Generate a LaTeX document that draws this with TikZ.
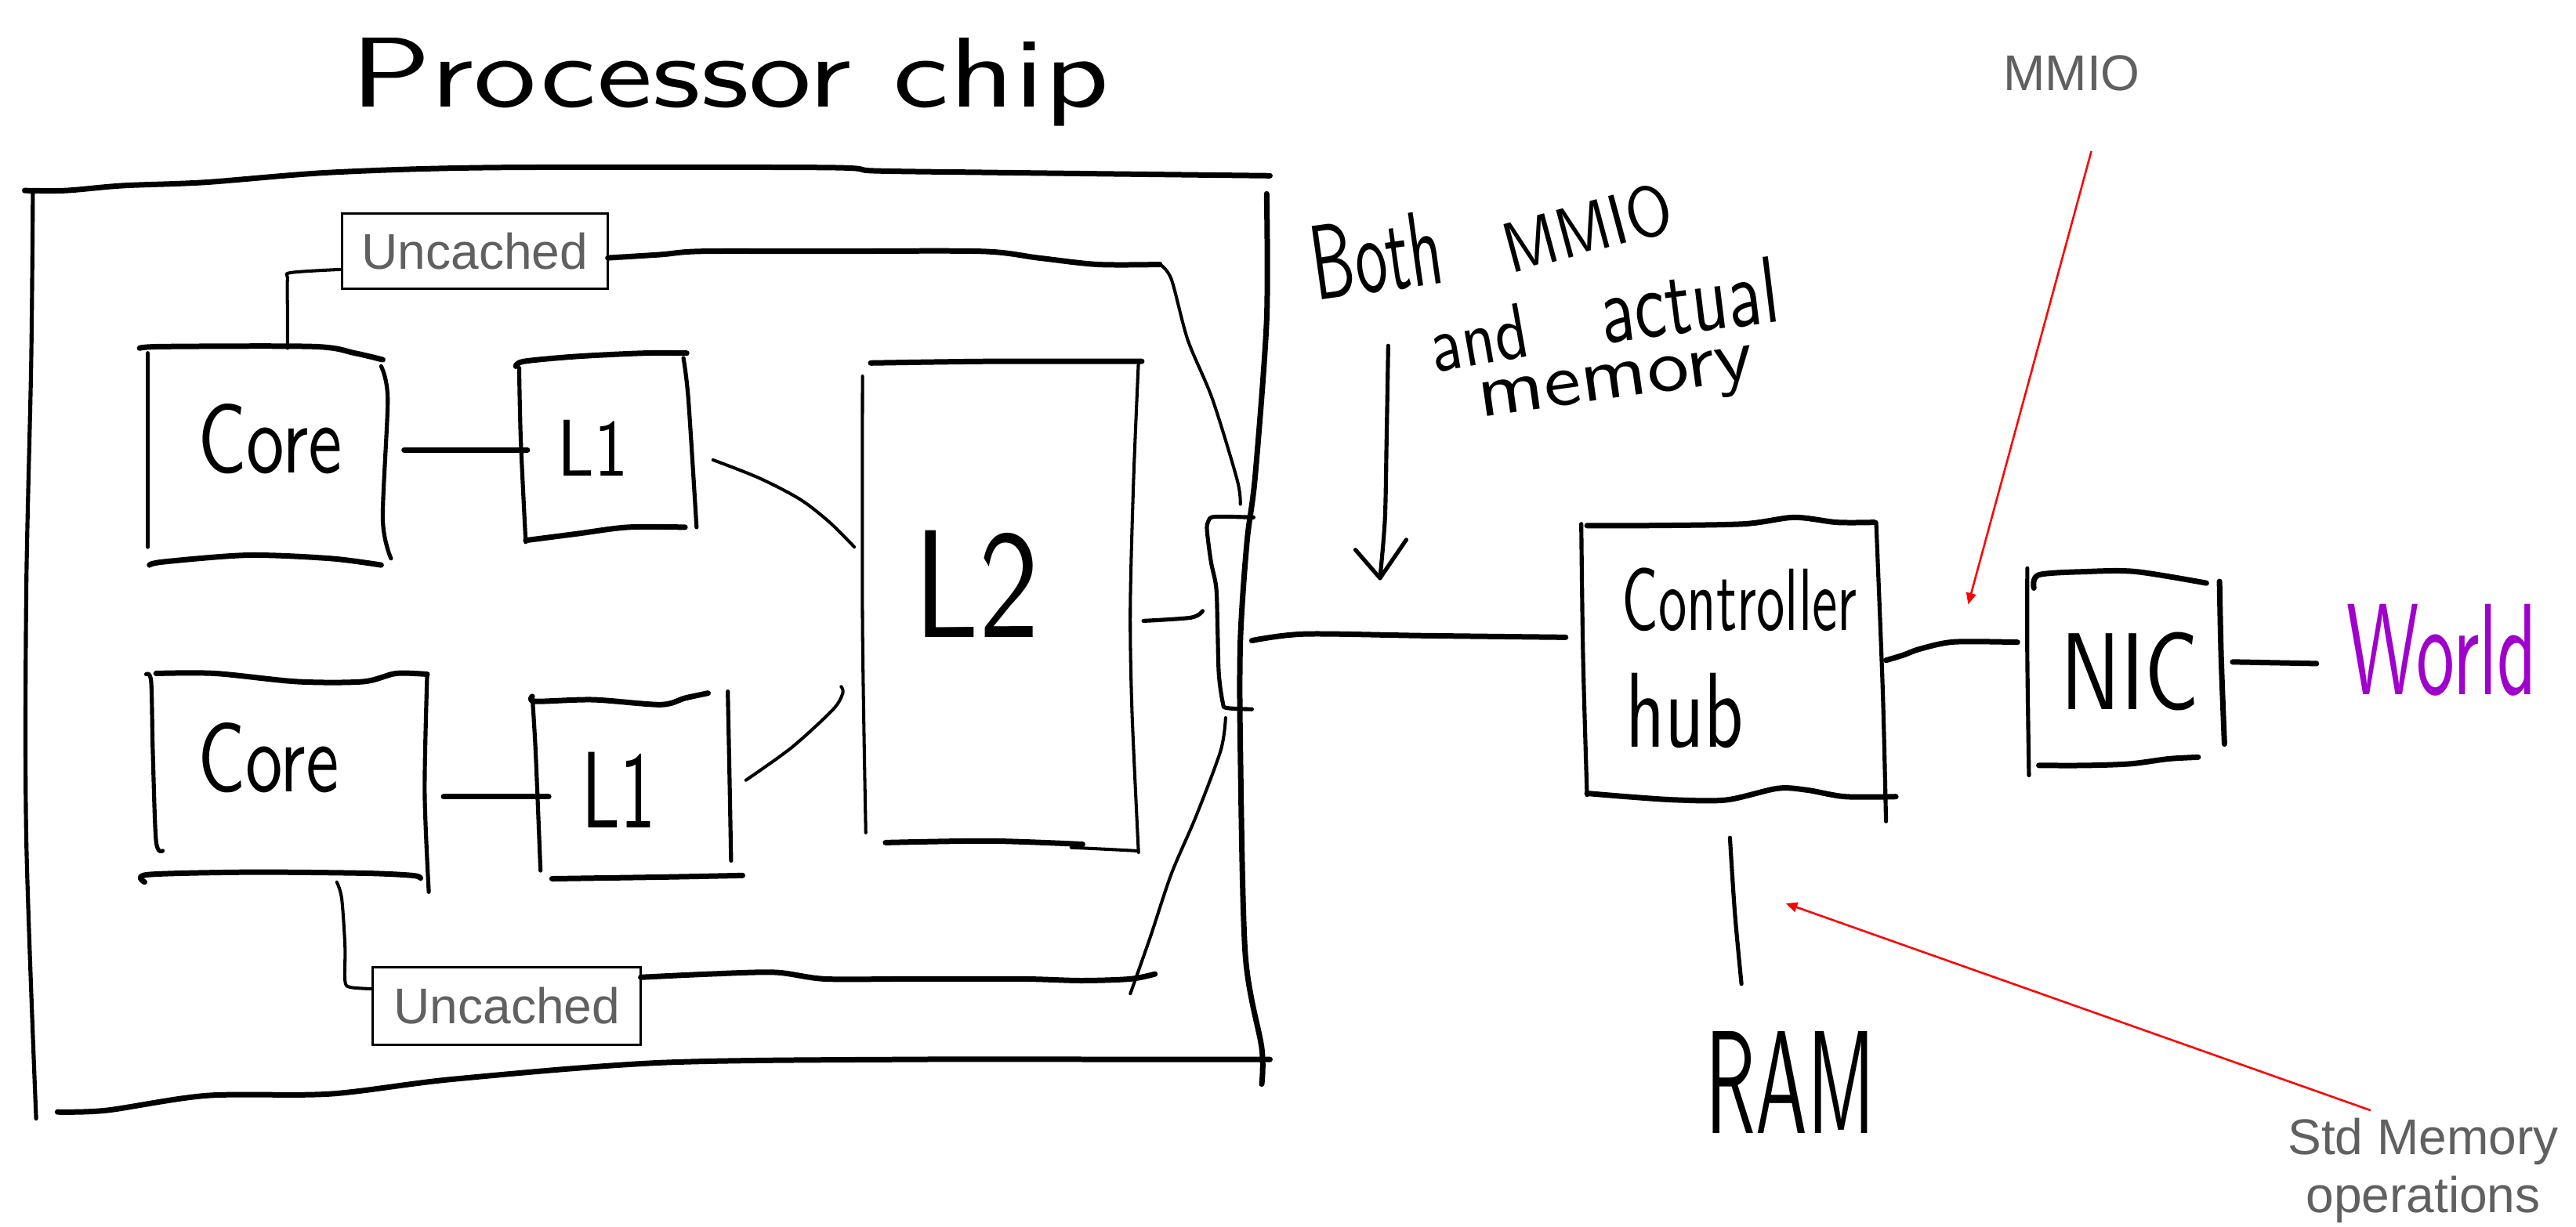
\documentclass[tikz,border=0pt]{standalone}
\usepackage{fontspec}
\usepackage{graphicx}
\usetikzlibrary{arrows.meta}
\newfontfamily\labelfont{Liberation Sans}
\definecolor{labelgray}{RGB}{96,96,96}
\definecolor{worldpurple}{RGB}{160,0,204}
% handwritten word: width, height above baseline, text
\newcommand{\hand}[3]{\resizebox{#1}{#2}{\sffamily #3}}
\tikzset{
  pen/.style={line width=1.4pt, line cap=round, line join=round},
  heavypen/.style={pen, line width=1.9pt},
  lightpen/.style={pen, line width=1.1pt},
  hw/.style={inner sep=0pt, anchor=base west},
  tag/.style={draw=black, line width=0.8pt, fill=white, text=labelgray,
    font=\labelfont\fontsize{17.4}{20}\selectfont, inner sep=0pt},
  note/.style={text=labelgray, font=\labelfont\fontsize{17.4}{20}\selectfont,
    inner sep=0pt, anchor=base},
  pointer/.style={red, line width=0.7pt, -{Triangle[length=0.14cm,width=0.12cm]}},
}
\begin{document}
\begin{tikzpicture}[x=0.02cm, y=-0.02cm]
\useasboundingbox (0,0) rectangle (1568,747);

% ---------- title ----------
\node[hw] (title) at (213,65) {\hand{9.24cm}{0.84cm}{Processor chip}};

% ---------- chip outline ----------
\draw[heavypen] plot[smooth] coordinates {(15,116) (40,116) (75,113) (125,111) (201,105) (301,102) (502,102) (532,104) (602,105) (773,107)};
\draw[pen] plot[smooth] coordinates {(20,118) (19,220) (16,360) (16,510) (22,681)};
\draw[heavypen] plot[smooth] coordinates {(35,677) (65,676) (126,667) (201,666) (276,657) (402,647) (552,645) (703,645) (773,645)};
\draw[heavypen] plot[smooth] coordinates {(771,118) (771,195) (764,290) (759,330) (755,390) (755,457) (758,581) (768,638) (768,660)};

% ---------- upper core ----------
\draw[heavypen] plot[smooth] coordinates {(85,212) (100,211) (191,211) (216,215) (233,219)};
\draw[pen] plot[smooth] coordinates {(90,215) (90,280) (90,333)};
\draw[pen] plot[smooth] coordinates {(232,223) (236,243) (233,316) (238,340)};
\draw[heavypen] plot[smooth] coordinates {(91,344) (100,342) (151,338) (201,340) (232,344)};
\node[hw] (core1) at (120,288) {\hand{1.76cm}{0.84cm}{Core}};

% ---------- upper L1 ----------
\draw[heavypen] plot[smooth] coordinates {(314,223) (319,220) (351,217) (392,215) (418,215)};
\draw[pen] plot[smooth] coordinates {(316,224) (317,268) (320,330)};
\draw[pen] plot[smooth] coordinates {(416,218) (419,243) (424,321)};
\draw[heavypen] plot[smooth] coordinates {(320,329) (351,325) (382,321) (417,321)};
\node[hw] (l1a) at (339,290) {\hand{0.86cm}{0.68cm}{L1}};

% ---------- lower core ----------
\draw[heavypen] plot[smooth] coordinates {(95,410) (131,410) (181,415) (221,415) (241,410) (260,410.5)};
\draw[pen] plot[smooth] coordinates {(89,410.5) (92,415) (93,457) (95,512) (99,518)};
\draw[pen] plot[smooth] coordinates {(260,411) (258.5,482) (261,543)};
\draw[heavypen] plot[smooth] coordinates {(88,537) (90,532.5) (151,531) (221,531.6) (251,533) (256,534.6)};
\node[hw] (core2) at (120,482) {\hand{1.72cm}{0.84cm}{Core}};

% ---------- lower L1 ----------
\draw[heavypen] plot[smooth] coordinates {(324,424) (326,427) (361,426) (402,429) (417,425) (431,422)};
\draw[pen] plot[smooth] coordinates {(324,424) (326,457) (329,530)};
\draw[pen] plot[smooth] coordinates {(443,421) (444,470) (445,524)};
\draw[heavypen] plot[smooth] coordinates {(336,535) (402,534) (452,533)};
\node[hw] (l1b) at (354,504) {\hand{0.9cm}{0.92cm}{L1}};

% ---------- L2 ----------
\draw[heavypen] plot[smooth] coordinates {(530,221) (602,220) (695,220)};
\draw[lightpen] plot[smooth] coordinates {(525,229) (525,380) (527,507)};
\draw[lightpen] plot[smooth] coordinates {(693,220) (690,292) (688,370) (689,432) (693,519)};
\draw[heavypen] plot[smooth] coordinates {(539,513) (602,512) (659,514)};
\draw[lightpen] plot[smooth] coordinates {(652,516) (673,517) (692,518)};
\node[hw] (l2) at (556,388) {\hand{1.52cm}{1.3cm}{L2}};

% ---------- interface on the chip edge ----------
\draw[pen] plot[smooth] coordinates {(763,315) (739.5,314.6) (735.5,317.3) (734.7,322.9) (737.1,341.9) (740.3,357.8) (741.1,381.7) (741.9,410.3) (744.3,427.8) (746.7,431) (762,431.8)};

% ---------- connection points ----------
\coordinate (c1E)  at (246,274);   \coordinate (l1aW) at (321,274);
\coordinate (c2E)  at (270,485);   \coordinate (l1bW) at (334,485);
\coordinate (l1aE) at (434,280);   \coordinate (l2Wa) at (520,333);
\coordinate (l1bE) at (454,475);   \coordinate (l2Wb) at (512,418);
\coordinate (l2E)  at (696,378);   \coordinate (ifW)  at (732,372);
\coordinate (c1N)  at (175,212);   \coordinate (c2S)  at (205,537);
\coordinate (ifNE) at (755,307);   \coordinate (ifSE) at (746,437);
\coordinate (ifE)  at (762,390);   \coordinate (hubW) at (953,388);
\coordinate (hubE) at (1148,402);  \coordinate (nicW) at (1228,391);
\coordinate (nicE) at (1359,403);  \coordinate (wldW) at (1410,404);
\coordinate (hubS) at (1053,510);  \coordinate (ramN) at (1060,599);

% ---------- cache links ----------
\draw[heavypen] plot[smooth] coordinates {(c1E) (285,274) (l1aW)};
\draw[heavypen] plot[smooth] coordinates {(c2E) (301,485) (l1bW)};
\draw[lightpen] plot[smooth] coordinates {(l1aE) (462,291) (487,304) (505,318) (l2Wa)};
\draw[lightpen] plot[smooth] coordinates {(l1bE) (482,455) (507,432) (513,422) (l2Wb)};
\draw[pen] plot[smooth] coordinates {(l2E) (725,376) (ifW)};

% ---------- uncached paths ----------
\node[tag, minimum width=3.24cm, minimum height=0.92cm] (unc1) at (289,153) {Uncached};
\node[tag, minimum width=3.26cm, minimum height=0.94cm] (unc2) at (308.5,612.5) {Uncached};
\draw[lightpen] plot[smooth] coordinates {(c1N) (175,190) (175,170) (177,166) (208,164)};
\draw[heavypen] plot[smooth] coordinates {(370,157) (402,155) (427,153) (502,153) (597,153) (632,157) (668,161) (706,161)};
\draw[lightpen] plot[smooth] coordinates {(706,161) (713,170) (723,207) (738,243) (753,292) (ifNE)};
\draw[lightpen] plot[smooth] coordinates {(c2S) (208,547) (210,576) (210,597) (213,601) (226,602)};
\draw[heavypen] plot[smooth] coordinates {(390,595) (432,593) (472,592) (502,596) (552,596) (622,596) (658,597) (688,596) (703,593)};
\draw[lightpen] plot[smooth] coordinates {(ifSE) (743,457) (728,497) (713,532) (700,571) (688,605)};

% ---------- system bus ----------
\draw[heavypen] plot[smooth] coordinates {(ifE) (794,386) (866,387) (hubW)};

% ---------- note on the bus ----------
\node[hw, rotate=8]  (wBoth)   at (801,183) {\hand{1.6cm}{0.9cm}{Both}};
\node[hw, rotate=15] (wMMIO)   at (919,167) {\hand{2.1cm}{0.62cm}{MMIO}};
\node[hw, rotate=10] (wAnd)    at (873,227) {\hand{1.2cm}{0.66cm}{and}};
\node[hw, rotate=7]  (wActual) at (976,209) {\hand{2.18cm}{0.8cm}{actual}};
\node[hw, rotate=8]  (wMemory) at (901,254) {\hand{3.38cm}{0.42cm}{memory}};
\coordinate (busTail) at (845,210.5);
\coordinate (busTip) at (840,352);
\draw[pen] plot[smooth] coordinates {(busTail) (844,268) (843,316) (busTip)};
\draw[pen] (825,334.7) -- (busTip) -- (856,328.6);

% ---------- controller hub ----------
\draw[heavypen] plot[smooth] coordinates {(966,320) (1000,320) (1061,319) (1092,315) (1118,318) (1141,318)};
\draw[pen] plot[smooth] coordinates {(962.5,319) (963.6,400) (966,484)};
\draw[pen] plot[smooth] coordinates {(1142,318) (1146,420) (1148,500)};
\draw[heavypen] plot[smooth] coordinates {(966,483) (990,485) (1020,487) (1051,487) (1082,480) (1100,481) (1123,485) (1154,485)};
\node[hw] (ctrl) at (987,384) {\hand{2.86cm}{0.76cm}{Controller}};
\node[hw] (hub) at (989,455) {\hand{1.44cm}{0.9cm}{hub}};

% ---------- NIC ----------
\draw[heavypen] plot[smooth] coordinates {(1238,358) (1241,350) (1270,348) (1300,348) (1343,355)};
\draw[pen] plot[smooth] coordinates {(1234,346) (1234,400) (1235,472)};
\draw[heavypen] plot[smooth] coordinates {(1351,354) (1352,400) (1354,453)};
\draw[heavypen] plot[smooth] coordinates {(1241,466) (1270,466) (1297,465) (1320,462) (1338,461)};
\node[hw] (nic) at (1254,432) {\hand{1.68cm}{0.94cm}{NIC}};
\node[hw, text=worldpurple] (world) at (1428,423) {\hand{2.32cm}{1.1cm}{World}};
\draw[heavypen] plot[smooth] coordinates {(hubE) (1158.6,398.8) (1169,395) (1189.5,390.8) (nicW)};
\draw[heavypen] (nicE) -- (wldW);

% ---------- RAM ----------
\node[hw] (ram) at (1038,690) {\hand{2.06cm}{1.24cm}{RAM}};
\draw[pen] plot[smooth] coordinates {(hubS) (1056,556) (ramN)};

% ---------- annotations ----------
\node[note] (mmio) at (1261,55) {MMIO};
\node[note] (stdmem) at (1475,703) {Std Memory};
\node[note] (stdops) at (1475,738) {operations};
\coordinate (mmioTail) at (1273,92);  \coordinate (mmioTip) at (1198,368);
\coordinate (stdTail) at (1443,676);  \coordinate (stdTip) at (1087,550);
\draw[pointer] (mmioTail) -- (mmioTip);
\draw[pointer] (stdTail) -- (stdTip);
\end{tikzpicture}
\end{document}
